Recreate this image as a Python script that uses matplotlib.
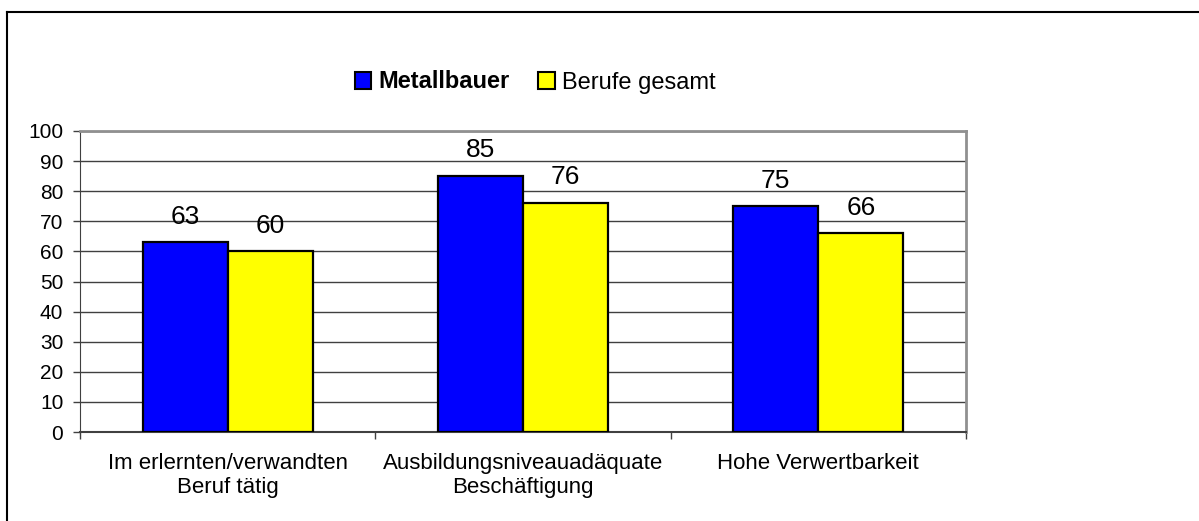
import numpy as np
import matplotlib.pyplot as plt
from matplotlib.lines import Line2D
from matplotlib.patches import Patch

plt.rcParams['font.family'] = ['Liberation Sans', 'DejaVu Sans']

# data
categories = ['Im erlernten/verwandten\nBeruf tätig',
              'Ausbildungsniveauadäquate\nBeschäftigung',
              'Hohe Verwertbarkeit']
metallbauer = [63, 85, 75]
berufe_gesamt = [60, 76, 66]
yticks = list(range(0, 101, 10))

fig = plt.figure(figsize=(11.99, 5.21), dpi=100)
ax = fig.add_axes([80/1199, 1-432/521, 886/1199, 301/521])

x = np.arange(len(categories))
w = 0.288
b1 = ax.bar(x - w/2, metallbauer, w, color='#0000ff', edgecolor='black', linewidth=1.6, zorder=3)
b2 = ax.bar(x + w/2, berufe_gesamt, w, color='#ffff00', edgecolor='black', linewidth=1.6, zorder=3)

for bars, vals in ((b1, metallbauer), (b2, berufe_gesamt)):
    for r, v in zip(bars, vals):
        ax.annotate(str(v), (r.get_x() + r.get_width()/2, v), xytext=(0, 13.5),
                    textcoords='offset points', ha='center', va='baseline', fontsize=19)

ax.set_xlim(-0.5, len(categories) - 0.5)
ax.set_ylim(0, 100)
ax.set_yticks(yticks)
ax.tick_params(axis='y', labelsize=15, length=5, width=1, color='#404040', pad=7)
ax.yaxis.grid(True, color='#404040', linewidth=1, zorder=0)
ax.set_axisbelow(True)

# category ticks sit on the group boundaries, labels in the middle
ax.set_xticks(np.arange(len(categories) + 1) - 0.5)
ax.set_xticklabels([])
ax.tick_params(axis='x', length=5, width=1, color='#404040', direction='out')
for i, c in enumerate(categories):
    ax.text(i, -7, c, ha='center', va='top', fontsize=16, linespacing=1.2,
            transform=ax.transData)

for s in ('top', 'right'):
    ax.spines[s].set_color('#909090')
    ax.spines[s].set_linewidth(2)
ax.spines['left'].set_color('#404040')
ax.spines['bottom'].set_color('#404040')
ax.spines['bottom'].set_linewidth(1.5)

handles = [Patch(facecolor='#0000ff', edgecolor='black', linewidth=1.5),
           Patch(facecolor='#ffff00', edgecolor='black', linewidth=1.5)]
leg = fig.legend(handles, ['Metallbauer', 'Berufe gesamt'], loc='center',
                 bbox_to_anchor=(535/1199, 1-82/521), ncol=2, frameon=False,
                 fontsize=17, handlelength=0.7, handleheight=0.7,
                 handletextpad=0.3, columnspacing=1.2)
leg.get_texts()[0].set_fontweight('bold')

# outer chart frame (right/bottom run off the picture)
fig.add_artist(Line2D([7/1199, 7/1199], [0, 1-12/521], color='black', linewidth=1.5))
fig.add_artist(Line2D([7/1199, 1], [1-12/521, 1-12/521], color='black', linewidth=1.5))

fig.savefig('out.png', dpi=100)
